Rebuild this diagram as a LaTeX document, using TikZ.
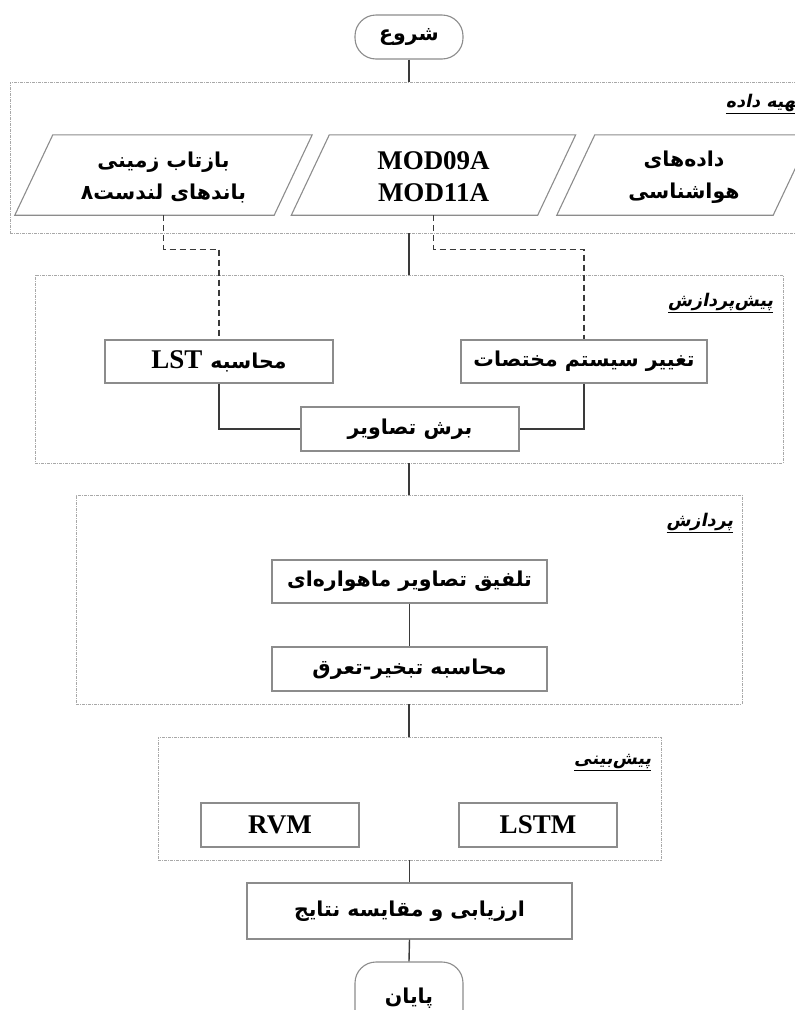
\documentclass[tikz,border=0pt]{standalone}
\usepackage{fontspec}
\setmainfont{Liberation Serif}
\newfontfamily\fa[Script=Arabic]{DejaVu Sans}
\newfontfamily\fait[Script=Arabic,FakeSlant=0.2]{DejaVu Sans}
\TeXXeTstate=1
\usetikzlibrary{calc}
\definecolor{boxgray}{HTML}{8C8C8C}
\definecolor{linegray}{HTML}{3A3A3A}
\definecolor{grpgray}{HTML}{A8A8A8}
\newcommand{\fatxt}[1]{{\fa\bfseries\fontsize{20.5}{32}\selectfont\beginR #1\endR}}
\newcommand{\latxt}[1]{{\bfseries\fontsize{27}{32}\selectfont #1}}
\newcommand{\grptxt}[1]{{\fait\bfseries\fontsize{17.5}{20}\selectfont\underline{\beginR #1\endR}}}
\tikzset{
  procbox/.style={draw=boxgray, line width=1.1pt, fill=white, inner sep=0pt, align=center},
  termbox/.style={draw=boxgray, line width=1.1pt, fill=white, rounded corners=21pt, inner sep=0pt, minimum width=108pt},
  grpbox/.style={draw=grpgray, line width=0.9pt, dash pattern=on 3pt off 1pt on 1pt off 1pt, inner sep=0pt},
  paranode/.style={inner sep=0pt, minimum height=80pt, align=center, font=\fontsize{27}{32}\selectfont},
  paraline/.style={draw=boxgray, line width=1.1pt},
  conn/.style={draw=linegray, line width=1.4pt},
  dconn/.style={conn, dash pattern=on 6pt off 4pt},
  grplabel/.style={anchor=east, inner sep=0pt}
}
\begin{document}
\begin{tikzpicture}[x=1pt,y=-1pt]
\useasboundingbox (0,0) rectangle (795,1010);
% groups
\node[grpbox, minimum width=810pt, minimum height=151pt] (g1) at (415,157.5) {};
\node[grpbox, minimum width=748pt, minimum height=188pt] (g2) at (409,369) {};
\node[grpbox, minimum width=666pt, minimum height=209pt] (g3) at (409,599.5) {};
\node[grpbox, minimum width=503pt, minimum height=123pt] (g4) at (409.5,798.5) {};
% group labels
\node[grplabel] (l1) at ($(g1.north east)+(-18,22)$) {\grptxt{تهیه داده}};
\node[grplabel] (l2) at ($(g2.north east)+(-10,28)$) {\grptxt{پیش‌پردازش}};
\node[grplabel] (l3) at ($(g3.north east)+(-9,28)$) {\grptxt{پردازش}};
\node[grplabel] (l4) at ($(g4.north east)+(-10,26)$) {\grptxt{پیش‌بینی}};
% terminals
\node[termbox, minimum height=44pt] (start) at (409,37) {\fatxt{شروع}};
\node[termbox, minimum height=72pt] (end) at (409,998) {\fatxt{پایان}};
% data parallelograms
\node[paranode, minimum width=259pt] (p1) at (163.5,177) {\fatxt{بازتاب زمینی}\\\fatxt{باندهای لندست۸}};
\node[paranode, minimum width=246pt] (p2) at (433.5,177) {\latxt{MOD09A}\\\latxt{MOD11A}};
\node[paranode, minimum width=216pt] (p3) at (684,177) {\fatxt{داده‌های}\\\fatxt{هواشناسی}};
\foreach \n in {p1,p2,p3}
  \draw[paraline] ($(\n.south west)+(-19,-2)$) -- ($(\n.north west)+(19,-2)$) -- ($(\n.north east)+(19,-2)$) -- ($(\n.south east)+(-19,-2)$) -- cycle;
% preprocessing
\node[procbox, minimum width=228pt, minimum height=43pt] (lst) at (219,361.5) {\beginR\fatxt{محاسبه}\hspace{8pt}\latxt{LST}\endR};
\node[procbox, minimum width=246pt, minimum height=43pt] (coord) at (584,361.5) {\fatxt{تغییر سیستم مختصات}};
\node[procbox, minimum width=218pt, minimum height=44pt] (crop) at (410,429) {\fatxt{برش تصاویر}};
% processing
\node[procbox, minimum width=275pt, minimum height=43pt] (fuse) at (409.5,581.5) {\fatxt{تلفیق تصاویر ماهواره‌ای}};
\node[procbox, minimum width=275pt, minimum height=44pt] (et) at (409.5,669) {\fatxt{محاسبه تبخیر-تعرق}};
% prediction
\node[procbox, minimum width=158pt, minimum height=44pt] (rvm) at (280,825) {\latxt{RVM}};
\node[procbox, minimum width=158pt, minimum height=44pt] (lstm) at (538,825) {\latxt{LSTM}};
% evaluation
\node[procbox, minimum width=325pt, minimum height=56pt] (eval) at (409.5,911) {\fatxt{ارزیابی و مقایسه نتایج}};
% connectors
\draw[conn] (start.south) -- (start.south |- g1.north);
\draw[conn] (start.south |- g1.south) -- (start.south |- g2.north);
\draw[dconn] ($(p1.south)+(0,-2)$) -- ++(0,34) -| (lst.north);
\draw[dconn] ($(p2.south)+(0,-2)$) -- ++(0,34) -| (coord.north);
\draw[conn] (lst.south) |- (crop.west);
\draw[conn] (coord.south) |- (crop.east);
\draw[conn] (g2.south) -- (g3.north);
\draw[conn] (fuse.south) -- (et.north);
\draw[conn] (g3.south) -- (g4.north -| g3.south);
\draw[conn] (g4.south -| eval.north) -- (eval.north);
\draw[conn] (eval.south) -- (end.north);
\end{tikzpicture}
\end{document}
